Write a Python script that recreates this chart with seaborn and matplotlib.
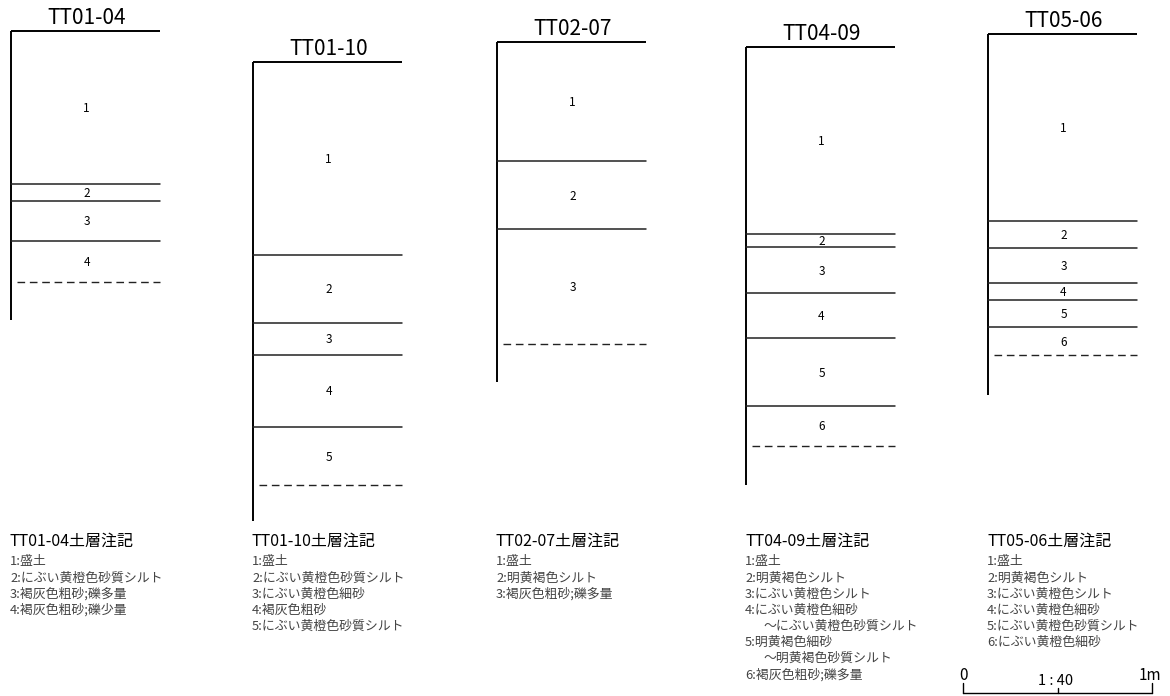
import matplotlib
matplotlib.use("Agg")
import matplotlib.pyplot as plt
import seaborn as sns

# 土層柱状図のデータ（深さはcm、上端からの距離）
columns = ["TT01-04", "TT01-10", "TT02-07", "TT04-09", "TT05-06"]
boundaries = [
    [81, 90, 111],
    [102, 138, 155, 193],
    [63, 99],
    [99, 106, 130, 154, 190],
    [99, 113, 132, 141, 155],
]
dashed_depth = [133, 224, 160, 211, 170]
bottom_depth = [153, 243, 180, 232, 191]

# 土層注記
notes = [
    ["盛土", "にぶい黄橙色砂質シルト", "褐灰色粗砂;礫多量", "褐灰色粗砂;礫少量"],
    ["盛土", "にぶい黄橙色砂質シルト", "にぶい黄橙色細砂", "褐灰色粗砂", "にぶい黄橙色砂質シルト"],
    ["盛土", "明黄褐色シルト", "褐灰色粗砂;礫多量"],
    ["盛土", "明黄褐色シルト", "にぶい黄橙色シルト",
     "にぶい黄橙色細砂\n～にぶい黄橙色砂質シルト",
     "明黄褐色細砂\n～明黄褐色砂質シルト", "褐灰色粗砂;礫多量"],
    ["盛土", "明黄褐色シルト", "にぶい黄橙色シルト", "にぶい黄橙色細砂",
     "にぶい黄橙色砂質シルト", "にぶい黄橙色細砂"],
]
scale_label = "1 : 40"
scale_m = 1

# レイアウト（ピクセル）
sns.set_theme(style="white")
plt.rcParams["font.family"] = ["Noto Sans CJK JP", "DejaVu Sans"]

W, H = 1170, 696
PX_PER_CM = 1.89
col_left = [11, 253, 497, 746, 988]
col_top = [31, 62, 42, 47, 34]
col_w = 149

fig = plt.figure(figsize=(W / 100, H / 100), dpi=100)
ax = fig.add_axes([0, 0, 1, 1])
ax.set_xlim(0, W)
ax.set_ylim(H, 0)
ax.axis("off")

for i, name in enumerate(columns):
    x0 = col_left[i]
    x1 = x0 + col_w
    xc = x0 + col_w / 2 + 1
    top = col_top[i]

    def y(d):
        return top + d * PX_PER_CM

    # 表題
    ax.text(xc, top - 13, name, ha="center", va="center", fontsize=15, color="black")

    # 上端と左端
    ax.plot([x0, x1], [top, top], color="black", lw=1.4, solid_capstyle="butt")
    ax.plot([x0, x0], [top, y(bottom_depth[i])], color="black", lw=1.4, solid_capstyle="butt")

    # 層界
    for d in boundaries[i]:
        ax.plot([x0, x1], [y(d), y(d)], color="#222222", lw=1.1)
    ax.plot([x0 + 6, x1], [y(dashed_depth[i])] * 2, color="#222222", lw=1.0,
            linestyle=(0, (5.5, 3.4)))

    # 層番号
    edges = [0] + boundaries[i] + [dashed_depth[i]]
    for k in range(len(edges) - 1):
        ym = (y(edges[k]) + y(edges[k + 1])) / 2 + 1
        ax.text(xc, ym, str(k + 1), ha="center", va="center", fontsize=8.5, color="black")

    # 注記
    ax.text(x0 - 1, 541, name + "土層注記", ha="left", va="center", fontsize=11.5, color="black")
    row = 0
    for k, note in enumerate(notes[i]):
        parts = note.split("\n")
        for j, part in enumerate(parts):
            yy = 562 + row * 16.1
            if j == 0:
                ax.text(x0 - 1, yy, f"{k + 1}:{part}", ha="left", va="center",
                        fontsize=9.3, color="#444444")
            else:
                ax.text(x0 + 17, yy, part, ha="left", va="center",
                        fontsize=9.3, color="#444444")
            row += 1

# スケールバー
sx0 = 963
sx1 = sx0 + scale_m * 100 * PX_PER_CM
sy = 693
ax.plot([sx0, sx1], [sy, sy], color="black", lw=1.0)
ax.plot([sx0, sx0], [sy - 10, sy], color="black", lw=1.0)
ax.plot([sx1, sx1], [sy - 10, sy], color="black", lw=1.0)
ax.plot([(sx0 + sx1) / 2] * 2, [sy - 5, sy], color="black", lw=1.0)
ax.text(sx0 + 1, 675, "0", ha="center", va="center", fontsize=11, color="black")
ax.text(sx1 - 2, 675, f"{scale_m}m", ha="center", va="center", fontsize=11, color="black")
ax.text((sx0 + sx1) / 2 - 2, 681, scale_label, ha="center", va="center", fontsize=10.5, color="black")

fig.savefig("out.png", dpi=100, facecolor="white")
